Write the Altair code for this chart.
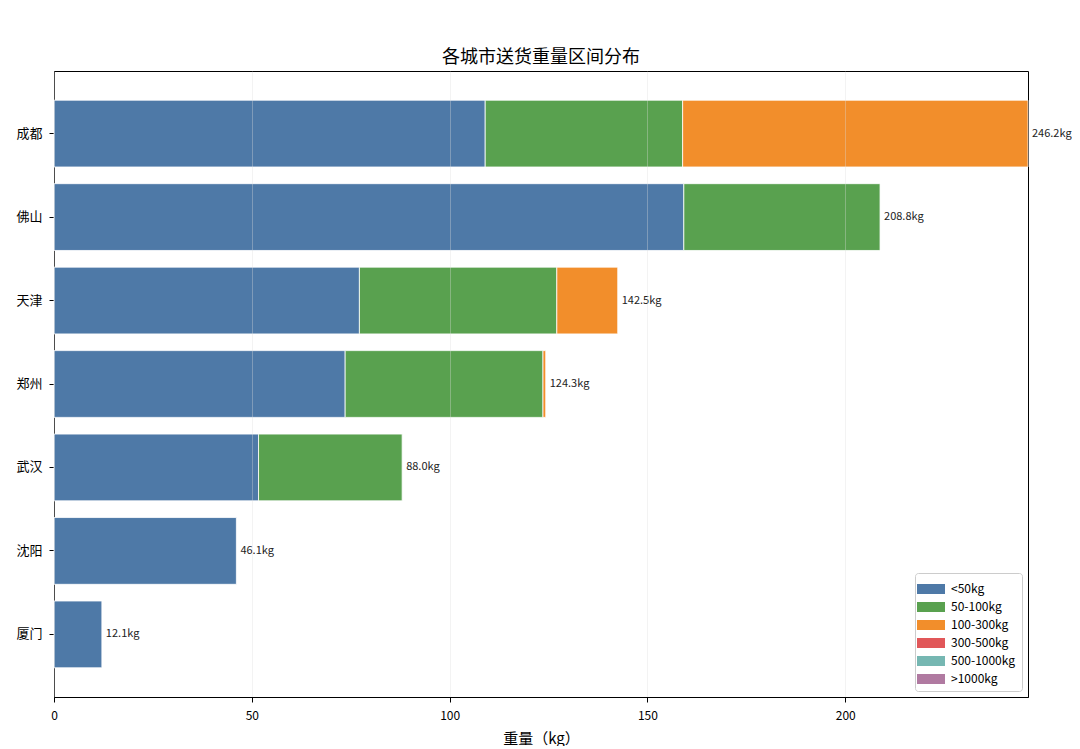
import altair as alt
import pandas as pd

cities = ["成都", "佛山", "天津", "郑州", "武汉", "沈阳", "厦门"]
bins = ["<50kg", "50-100kg", "100-300kg", "300-500kg", "500-1000kg", ">1000kg"]
colors = ["#4e79a7", "#59a14f", "#f28e2b", "#e15759", "#76b7b2", "#b07aa1"]

w_lt50 = [109.0, 159.2, 77.2, 73.6, 51.7, 46.1, 12.1]
w_50_100 = [49.9, 49.6, 49.9, 50.0, 36.3, 0.0, 0.0]
w_100_300 = [87.3, 0.0, 15.4, 0.7, 0.0, 0.0, 0.0]
w_300_500 = [0.0] * 7
w_500_1000 = [0.0] * 7
w_gt1000 = [0.0] * 7

series = [w_lt50, w_50_100, w_100_300, w_300_500, w_500_1000, w_gt1000]

rows = []
for bi, (b, vals) in enumerate(zip(bins, series)):
    for c, v in zip(cities, vals):
        if v > 0:
            rows.append({"city": c, "bin": b, "order": bi, "w": v})
df = pd.DataFrame(rows)

totals = [round(sum(s[i] for s in series), 1) for i in range(len(cities))]
tdf = pd.DataFrame({"city": cities, "total": totals,
                    "label": [f"{t:.1f}kg" for t in totals]})

FONT = "Noto Sans CJK SC"
XMAX = 246.2

y_enc = alt.Y("city:N", sort=cities, title=None,
              scale=alt.Scale(paddingInner=0.2, paddingOuter=0.35),
              axis=alt.Axis(labelFontSize=13, labelColor="black", tickColor="black",
                            domainColor="black", labelPadding=7, grid=False))

bars = alt.Chart(df).mark_bar(stroke="white", strokeWidth=0.8).encode(
    x=alt.X("w:Q", stack="zero", title="重量（kg）",
            scale=alt.Scale(domain=[0, XMAX], nice=False, zero=True),
            axis=alt.Axis(values=[0, 50, 100, 150, 200], labelFontSize=12,
                          labelColor="black", tickColor="black", domainColor="black",
                          labelPadding=8, titlePadding=10, labelFlush=False,
                          titleFontSize=15, titleFontWeight="normal", titleColor="black",
                          grid=True, gridColor="#dddddd", gridOpacity=0.35, zindex=1)),
    y=y_enc,
    color=alt.Color("bin:N", title=None,
                    scale=alt.Scale(domain=bins, range=colors),
                    legend=alt.Legend(orient="bottom-right", offset=6,
                                      symbolType="M-1.4,-0.5L1.4,-0.5L1.4,0.5L-1.4,0.5Z",
                                      symbolSize=400, symbolStrokeWidth=0,
                                      labelFontSize=12, labelColor="black",
                                      labelOffset=10,
                                      strokeColor="#cccccc", fillColor="white",
                                      padding=6, cornerRadius=3, rowPadding=2)),
    order=alt.Order("order:Q"),
)

labels = alt.Chart(tdf).mark_text(align="left", baseline="middle", dx=4,
                                  fontSize=11, font=FONT, color="#222222").encode(
    x=alt.X("total:Q"),
    y=alt.Y("city:N", sort=cities),
    text="label:N",
)

chart = alt.layer(bars, labels).properties(
    width=974, height=626,
    padding={"left": 7, "top": 41, "right": 0, "bottom": 0},
    title=alt.TitleParams("各城市送货重量区间分布", fontSize=18, fontWeight="normal",
                          color="black", font=FONT, offset=4),
).configure(font=FONT).configure_view(stroke="black", strokeWidth=1)

chart.save("out.html", embed_options={"renderer": "svg", "actions": False})
